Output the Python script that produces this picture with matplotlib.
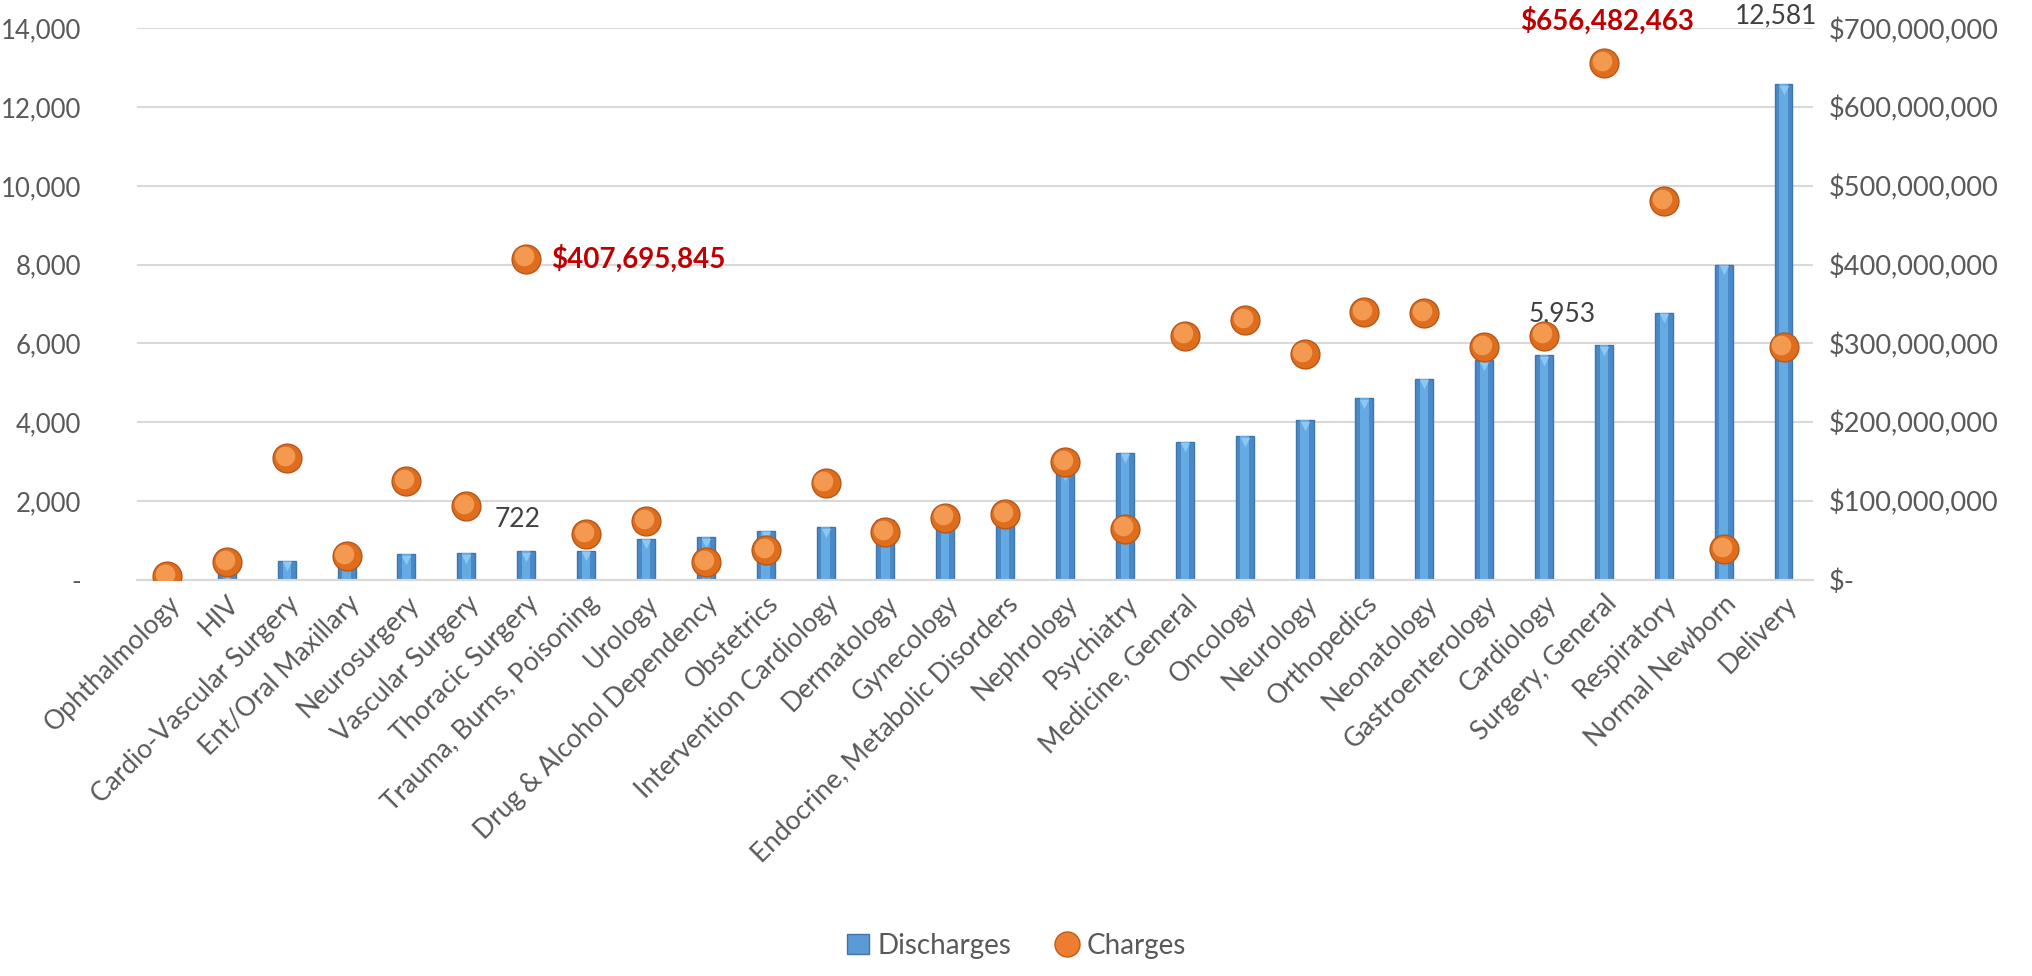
import matplotlib
matplotlib.use("Agg")
import matplotlib.pyplot as plt
import matplotlib.transforms as mtransforms
from matplotlib.ticker import FuncFormatter, MultipleLocator
from matplotlib.lines import Line2D
from matplotlib.patches import Patch

plt.rcParams['font.family'] = ['Lato', 'DejaVu Sans']

# data
categories = ['Ophthalmology', 'HIV', 'Cardio-Vascular Surgery', 'Ent/Oral Maxillary',
              'Neurosurgery', 'Vascular Surgery', 'Thoracic Surgery',
              'Trauma, Burns, Poisoning', 'Urology', 'Drug & Alcohol Dependency',
              'Obstetrics', 'Intervention Cardiology', 'Dermatology', 'Gynecology',
              'Endocrine, Metabolic Disorders', 'Nephrology', 'Psychiatry',
              'Medicine, General', 'Oncology', 'Neurology', 'Orthopedics',
              'Neonatology', 'Gastroenterology', 'Cardiology', 'Surgery, General',
              'Respiratory', 'Normal Newborn', 'Delivery']
discharges = [90, 220, 480, 500, 650, 680, 722, 740, 1040, 1080, 1250, 1330,
              1520, 1600, 1650, 2780, 3220, 3500, 3640, 4050, 4610, 5100, 5580,
              5700, 5953, 6780, 8000, 12581]
charges = [5e6, 22e6, 155e6, 30e6, 125e6, 94e6, 407695845, 58e6, 75e6, 22e6,
           38e6, 123e6, 61e6, 79e6, 83e6, 149e6, 65e6, 310e6, 330e6, 287e6,
           340e6, 339e6, 295e6, 310e6, 656482463, 481e6, 39e6, 295e6]

orange = '#ED7D31'
grey_txt = '#595959'

fig = plt.figure(figsize=(20.33, 9.76), dpi=100)
ax = fig.add_axes([0.0674, 0.406, 0.8246, 0.565])
ax2 = ax.twinx()

x = list(range(len(categories)))

# bars with a bit of bevel shading
ax.bar(x, discharges, width=0.3, color='#4A89C8', edgecolor='#3E75AA', linewidth=1.0, zorder=2)
ax.bar(x, discharges, width=0.14, color='#66AAE4', linewidth=0, zorder=2)
tip = mtransforms.offset_copy(ax.transData, fig=fig, y=-4, units='points')
ax.scatter(x, discharges, marker='v', s=45, color='#8CC8F2', linewidths=0, transform=tip, zorder=2)

# charge markers, two layers for a shaded look
ax2.scatter(x, charges, s=430, color='#DE6E1E', edgecolors='#B8571A', linewidths=1.0, zorder=3)
hl = mtransforms.offset_copy(ax2.transData, fig=fig, x=-1.5, y=1.5, units='points')
ax2.scatter(x, charges, s=200, color='#F39A50', linewidths=0, transform=hl, zorder=4)

ax.set_xlim(-0.5, len(categories) - 0.5)
ax.set_ylim(0, 14000)
ax2.set_ylim(0, 700e6)
ax.yaxis.set_major_locator(MultipleLocator(2000))
ax2.yaxis.set_major_locator(MultipleLocator(100e6))

ax.yaxis.set_major_formatter(FuncFormatter(lambda v, p: '-' if v == 0 else f'{v:,.0f}'))
ax2.yaxis.set_major_formatter(FuncFormatter(lambda v, p: '$-' if v == 0 else f'${v:,.0f}'))

ax.grid(axis='y', color='#D9D9D9', linewidth=1.5, zorder=0)
ax.set_axisbelow(True)
for a in (ax, ax2):
    for s in ('top', 'left', 'right'):
        a.spines[s].set_visible(False)
    a.spines['bottom'].set_color('#D9D9D9')
    a.spines['bottom'].set_linewidth(1.5)
    a.tick_params(length=0, labelcolor=grey_txt)
ax.tick_params(axis='y', pad=40, labelsize=18.5)
ax2.tick_params(axis='y', pad=11, labelsize=19.5)

ax.set_xticks(x)
ax.set_xticklabels(categories, rotation=45, ha='right', rotation_mode='anchor', fontsize=19, color=grey_txt)
ax.tick_params(axis='x', pad=8)

# data labels
ax.annotate(f'{discharges[6]:,}', (x[6], discharges[6]), xytext=(-6, 14), textcoords='offset points',
            ha='center', va='bottom', fontsize=19, color='#404040')
ax.annotate(f'{discharges[24]:,}', (x[24], discharges[24]), xytext=(-30, 14), textcoords='offset points',
            ha='center', va='bottom', fontsize=19, color='#404040')
ax.annotate(f'{discharges[27]:,}', (x[27], discharges[27]), xytext=(-5, 40), textcoords='offset points',
            ha='center', va='bottom', fontsize=19, color='#404040')
ax2.annotate(f'${charges[6]:,.0f}', (x[6], charges[6]), xytext=(18, 0), textcoords='offset points',
             ha='left', va='center', fontsize=20, fontweight='bold', color='#C00000')
ax2.annotate(f'${charges[24]:,.0f}', (x[24], charges[24]), xytext=(2, 20), textcoords='offset points',
             ha='center', va='bottom', fontsize=20, fontweight='bold', color='#C00000')

handles = [Patch(facecolor='#5B9BD5', edgecolor='#3E75AA', label='Discharges'),
           Line2D([], [], marker='o', linestyle='none', markersize=18, markerfacecolor=orange,
                  markeredgecolor='#C55A11', label='Charges')]
fig.legend(handles=handles, loc='lower center', bbox_to_anchor=(0.5, -0.008), ncol=2, frameon=False,
           fontsize=20, labelcolor=grey_txt, handlelength=0.8, handletextpad=0.3, columnspacing=1.6)

fig.savefig('out.png', dpi=100)
